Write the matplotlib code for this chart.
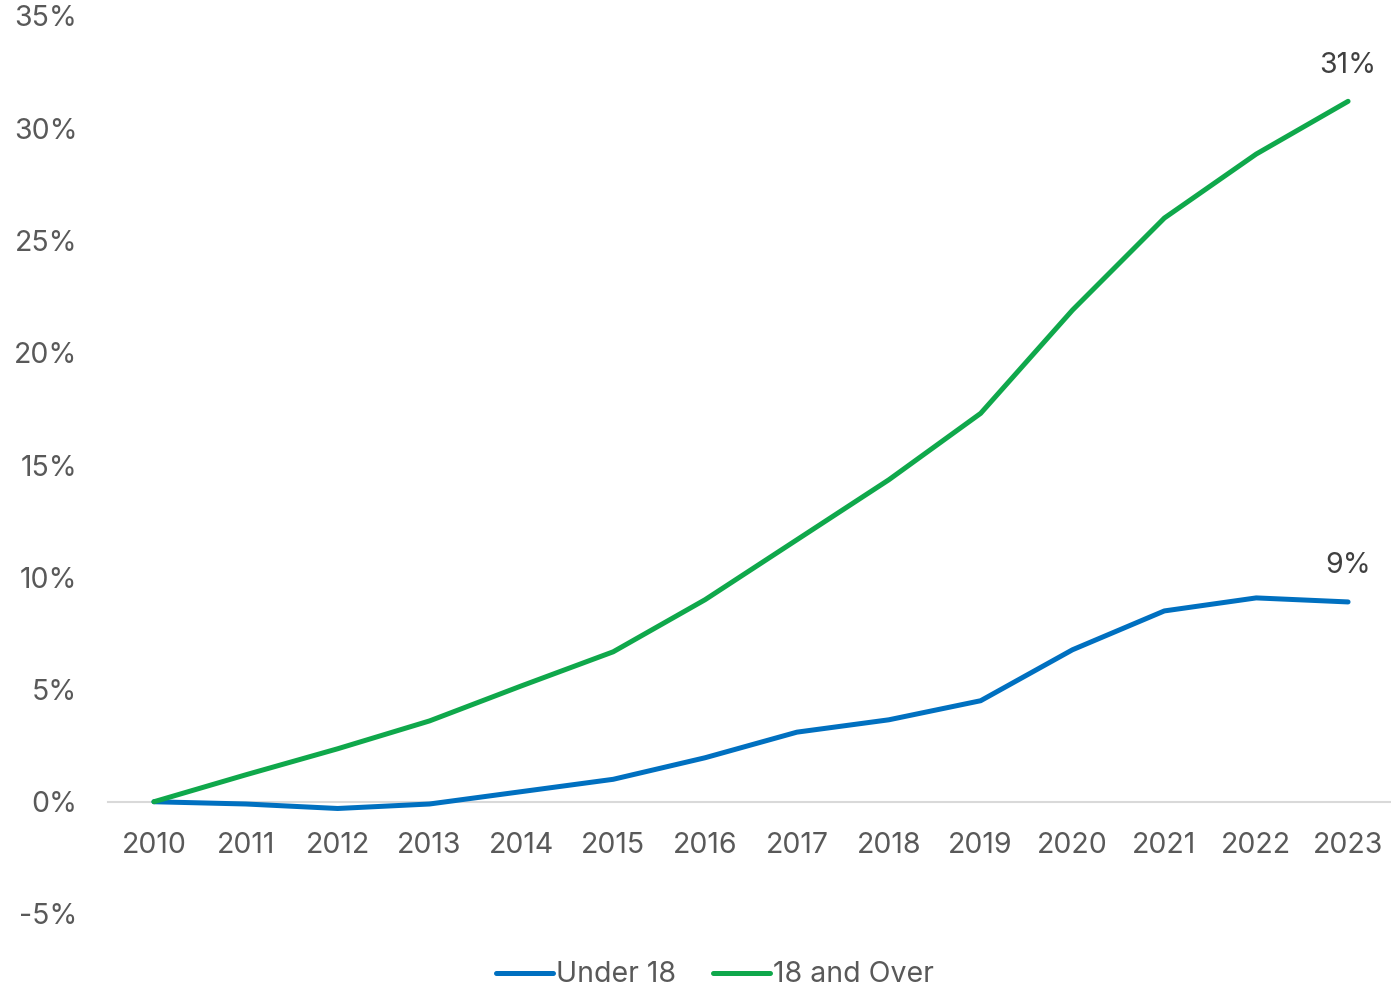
import matplotlib
matplotlib.use("Agg")
import matplotlib.pyplot as plt
from matplotlib.ticker import FuncFormatter

years = ["2010", "2011", "2012", "2013", "2014", "2015", "2016", "2017", "2018", "2019", "2020", "2021", "2022", "2023"]
under18 = [0.0, -0.1, -0.3, -0.1, 0.45, 1.0, 1.96, 3.1, 3.65, 4.5, 6.77, 8.5, 9.08, 8.9]
over18 = [0.0, 1.2, 2.36, 3.6, 5.16, 6.68, 9.0, 11.67, 14.34, 17.3, 21.9, 26.0, 28.85, 31.2]
end_labels = ["9%", "31%"]

plt.rcParams['font.family'] = ['Inter', 'DejaVu Sans']
gray = "#595959"
blue = "#0070C0"
green = "#0FA84B"
fs = 20.5

fig = plt.figure(figsize=(13.91, 9.89), dpi=100)
ax = fig.add_axes([108/1391, 1-914/989, (1394-108)/1391, (914-16)/989])

x = list(range(len(years)))
ax.plot(x, under18, color=blue, lw=3.6, solid_capstyle='round', solid_joinstyle='round', label="Under 18", zorder=3)
ax.plot(x, over18, color=green, lw=3.6, solid_capstyle='round', solid_joinstyle='round', label="18 and Over", zorder=3)

ax.annotate(end_labels[0], (x[-1], under18[-1]), xytext=(0, 26), textcoords='offset points',
            ha='center', va='center', fontsize=fs, color="#404040")
ax.annotate(end_labels[1], (x[-1], over18[-1]), xytext=(0, 26), textcoords='offset points',
            ha='center', va='center', fontsize=fs, color="#404040")

ax.set_xlim(-0.5, len(years) - 0.5)
ax.set_ylim(-5, 35)
ax.set_yticks(range(-5, 36, 5))
ax.yaxis.set_major_formatter(FuncFormatter(lambda v, p: f"{int(v)}%"))
ax.set_xticks(x)
ax.set_xticklabels(years)

for s in ['top', 'right', 'left']:
    ax.spines[s].set_visible(False)
ax.spines['bottom'].set_position(('data', 0))
ax.spines['bottom'].set_color("#D9D9D9")
ax.spines['bottom'].set_linewidth(1.5)
ax.spines['bottom'].set_zorder(1)

ax.tick_params(axis='x', length=0, pad=22, labelsize=fs, colors=gray)
ax.tick_params(axis='y', length=0, pad=22, labelsize=fs, colors=gray)

leg = fig.legend(loc='center', bbox_to_anchor=(0.514, 1-975/989), ncol=2, frameon=False,
                 fontsize=fs, handlelength=2.0, handletextpad=0.1, columnspacing=1.3)
for t in leg.get_texts():
    t.set_color(gray)

fig.savefig("out.png", dpi=100)
